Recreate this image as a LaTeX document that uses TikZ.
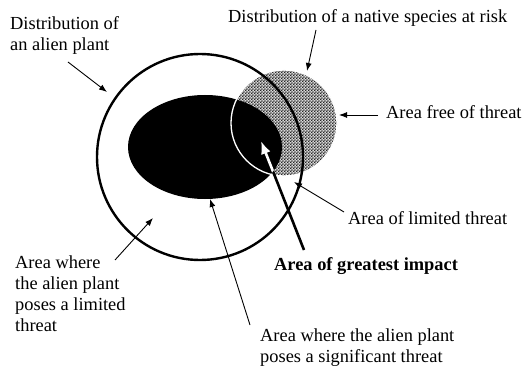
\documentclass[tikz,border=0pt]{standalone}
\usepackage{fontspec}
\setmainfont{Liberation Serif}
\usetikzlibrary{patterns,arrows.meta}
\pgfdeclarepatternformonly{finecheck}{\pgfpointorigin}{\pgfpoint{3.2pt}{3.2pt}}{\pgfpoint{3.2pt}{3.2pt}}{%
  \pgfpathrectangle{\pgfpointorigin}{\pgfpoint{1.6pt}{1.6pt}}%
  \pgfpathrectangle{\pgfpoint{1.6pt}{1.6pt}}{\pgfpoint{1.6pt}{1.6pt}}%
  \pgfusepath{fill}}
\begin{document}
\begin{tikzpicture}[x=1pt,y=-1pt,
  lbl/.style={inner sep=0pt, font=\fontsize{18.4}{21}\selectfont, align=left},
  ptr/.style={line width=0.9pt, -{Latex[length=8pt,width=6pt]}},
  bigptr/.style={line width=2.6pt, -{Latex[length=13pt,width=10pt]}}]
\useasboundingbox (0,0) rectangle (524,366);
% native species distribution (checkered)
\fill[gray!30] (284,123) circle (53);
\fill[pattern=finecheck, pattern color=black!85] (284,123) circle (53);
\draw[gray, densely dashed, line width=0.4pt] (284,123) ++(-70:53) arc[start angle=-70, end angle=70, radius=53];
% area where alien plant poses significant threat
\fill[black] (205,147) ellipse [x radius=77, y radius=52];
\draw[white, line width=1.3pt] (284,123) circle (53);
% alien plant distribution
\draw[line width=2.4pt] (200,157) circle (103);
% labels (base = baseline of last line)
\node[lbl, anchor=base west] (alien) at (10,50.5) {Distribution of\\an alien plant};
\node[lbl, anchor=base west] (native) at (228,23) {Distribution of a native species at risk};
\node[lbl, anchor=base west] (free) at (386,119) {Area free of threat};
\node[lbl, anchor=base west] (limited) at (348,224) {Area of limited threat};
\node[lbl, anchor=base west, font=\fontsize{18.4}{21}\selectfont\bfseries] (impact) at (274,270) {Area of greatest impact};
\node[lbl, anchor=base west] (plimited) at (15,331) {Area where\\the alien plant\\poses a limited\\threat};
\node[lbl, anchor=base west] (psig) at (260,362) {Area where the alien plant\\poses a significant threat};
% connector ends
\coordinate (a1s) at (68,62);  \coordinate (a1e) at (107,92);
\coordinate (a2s) at (316,30); \coordinate (a2e) at (307,71);
\coordinate (a3s) at (378,115);\coordinate (a3e) at (339,115);
\coordinate (a4s) at (344,212);\coordinate (a4e) at (294,182);
\coordinate (a5s) at (304,250);\coordinate (a5e) at (261,141);
\coordinate (a6s) at (115,260);\coordinate (a6e) at (153,218);
\coordinate (a7s) at (250,325);\coordinate (a7e) at (210,199);
\draw[ptr] (a1s) -- (a1e);
\draw[ptr] (a2s) -- (a2e);
\draw[ptr] (a3s) -- (a3e);
\draw[ptr] (a4s) -- (a4e);
\draw[ptr] (a6s) -- (a6e);
\draw[ptr] (a7s) -- (a7e);
\draw[bigptr] (a5s) -- (a5e);
\begin{scope}
  \clip (205,147) ellipse [x radius=77, y radius=52];
  \draw[bigptr, white] (a5s) -- (a5e);
\end{scope}
\end{tikzpicture}
\end{document}
